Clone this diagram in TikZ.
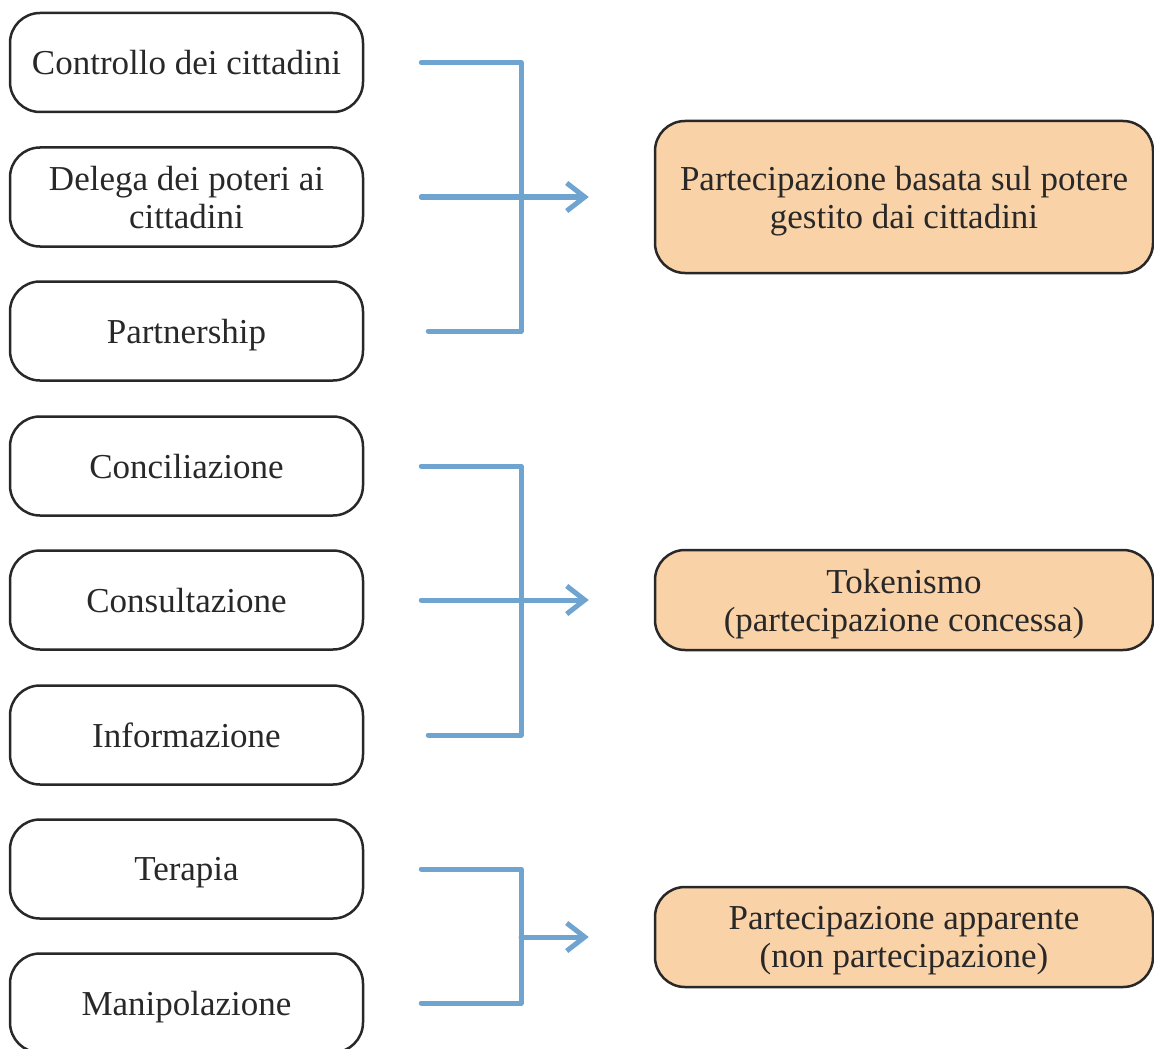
\documentclass[tikz,border=0pt]{standalone}
\usepackage{fontspec}
\setmainfont{Liberation Serif}
\usetikzlibrary{arrows.meta}

\definecolor{lineblue}{HTML}{6FA4D1}
\definecolor{peach}{HTML}{FAD2A8}
\definecolor{edgegray}{HTML}{282828}

\tikzset{
  stepbox/.style={draw=edgegray,line width=1.25pt,rounded corners=15pt,
    minimum width=176.5pt,minimum height=49.5pt,inner sep=0pt,align=center,
    text=edgegray,text depth=0pt,font=\fontsize{17.5}{19}\selectfont},
  groupbox/.style={stepbox,fill=peach,minimum width=249pt,minimum height=50pt},
  link/.style={lineblue,line width=2.5pt,line cap=round,line join=round},
  arrowlink/.style={link,-{Straight Barb[length=9pt,width=14pt,line width=2.5pt]},shorten >=32.5pt}
}

\begin{document}
\begin{tikzpicture}[x=0.5pt,y=-0.5pt]
\useasboundingbox (0,0) rectangle (1154,1048);

\node[stepbox] (ctrl) at (186.5,62.5) {Controllo dei cittadini};
\node[stepbox] (deleg) at (186.5,197) {Delega dei poteri ai\\cittadini};
\node[stepbox] (partner) at (186.5,331) {Partnership};
\node[stepbox] (concil) at (186.5,466) {Conciliazione};
\node[stepbox] (consult) at (186.5,600) {Consultazione};
\node[stepbox] (inform) at (186.5,735) {Informazione};
\node[stepbox] (terap) at (186.5,869) {Terapia};
\node[stepbox] (manip) at (186.5,1003) {Manipolazione};

\node[groupbox,minimum height=76pt] (potere) at (904,197) {Partecipazione basata sul potere\\gestito dai cittadini};
\node[groupbox] (token) at (904,600) {Tokenismo\\(partecipazione concessa)};
\node[groupbox] (apparente) at (904,937) {Partecipazione apparente\\(non partecipazione)};

\coordinate (j1) at (521,197);
\coordinate (j2) at (521,600);
\coordinate (j3) at (521,937);

\draw[link] ([xshift=28.5pt]ctrl.east) -| (j1) |- ([xshift=32pt]partner.east);
\draw[arrowlink] ([xshift=28.5pt]deleg.east) -- (potere.west);

\draw[link] ([xshift=28.5pt]concil.east) -| (j2) |- ([xshift=32pt]inform.east);
\draw[arrowlink] ([xshift=28.5pt]consult.east) -- (token.west);

\draw[link] ([xshift=28.5pt]terap.east) -| (j3) |- ([xshift=28.5pt]manip.east);
\draw[arrowlink] (j3) -- (apparente.west);

\end{tikzpicture}
\end{document}
